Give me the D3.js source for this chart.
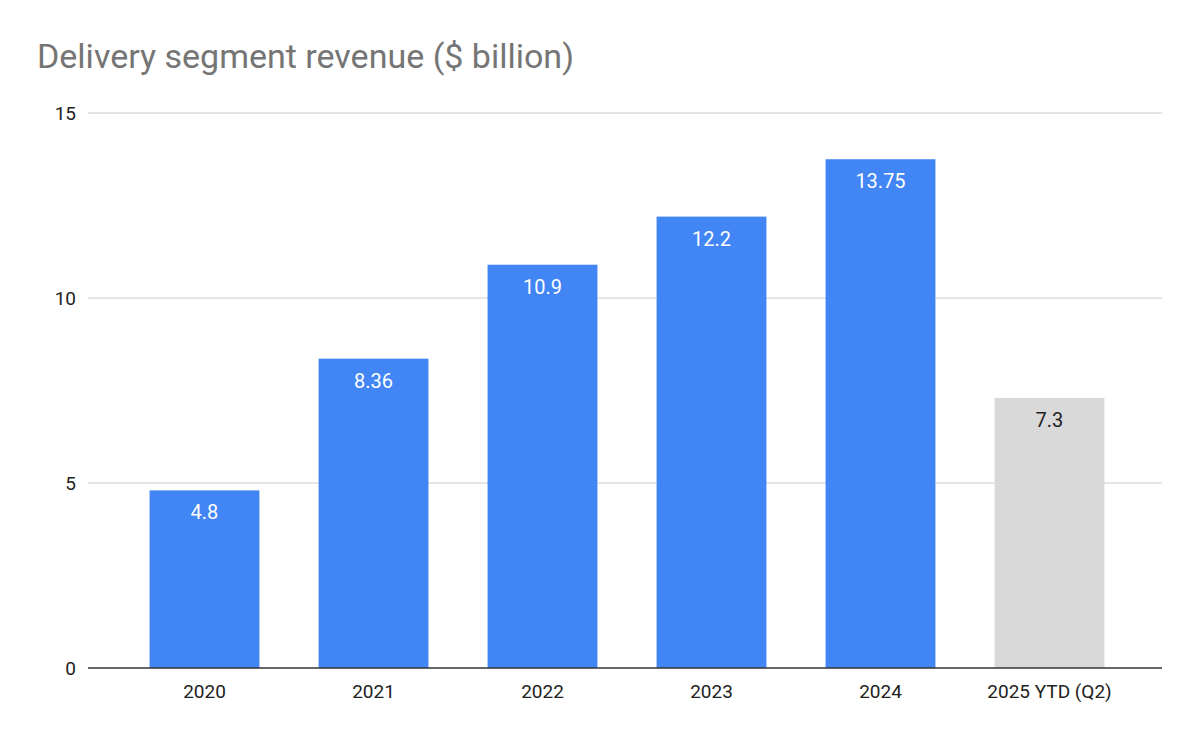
<!DOCTYPE html>
<html lang="en">
<head>
<meta charset="UTF-8">
<script src="https://d3js.org/d3.v7.min.js"></script>
<style>
  body { margin: 0; background: #fff; font-family: Roboto, Arial, sans-serif; }
</style>
</head>
<body>
<svg id="canvas" width="1200" height="742"></svg>
<script>
    // chart data
    const years = ["2020", "2021", "2022", "2023", "2024", "2025 YTD (Q2)"];
    const revenue = [4.8, 8.36, 10.9, 12.2, 13.75, 7.3];
    const yTicks = [0, 5, 10, 15];

    const svg = d3.select("#canvas");

    svg.append("text")
        .attr("x", 37).attr("y", 68)
        .attr("font-size", 34).attr("fill", "#757575")
        .text("Delivery segment revenue ($ billion)");

    const xScale = d3.scaleBand().domain(years).range([120, 1134]).paddingInner(0.35).paddingOuter(0.175);
    const yScale = d3.scaleLinear().domain([0, 15]).range([668, 113]);

    // grid
    svg.append("g").selectAll("line")
        .data(yTicks.slice(1))
        .join("line")
        .attr("x1", 88).attr("x2", 1162)
        .attr("y1", d => yScale(d)).attr("y2", d => yScale(d))
        .attr("stroke", "#cccccc");

    svg.append("g").selectAll("text")
        .data(yTicks)
        .join("text")
        .attr("x", 76).attr("y", d => yScale(d) + 7)
        .attr("text-anchor", "end").attr("font-size", 19).attr("fill", "#222")
        .text(d => d);

    const data = years.map((y, i) => ({ year: y, value: revenue[i], ytd: i === years.length - 1 }));

    svg.append("g").selectAll("rect")
        .data(data)
        .join("rect")
        .attr("x", d => xScale(d.year))
        .attr("width", xScale.bandwidth())
        .attr("y", d => yScale(d.value))
        .attr("height", d => yScale(0) - yScale(d.value))
        .attr("fill", d => d.ytd ? "#d9d9d9" : "#4285f4");

    svg.append("g").selectAll("text")
        .data(data)
        .join("text")
        .attr("x", d => xScale(d.year) + xScale.bandwidth() / 2)
        .attr("y", d => yScale(d.value) + 29)
        .attr("text-anchor", "middle").attr("font-size", 20)
        .attr("fill", d => d.ytd ? "#222" : "#fff")
        .text(d => d.value);

    // baseline
    svg.append("line")
        .attr("x1", 88).attr("x2", 1162)
        .attr("y1", yScale(0)).attr("y2", yScale(0))
        .attr("stroke", "#333").attr("stroke-width", 1.5);

    svg.append("g").selectAll("text")
        .data(years)
        .join("text")
        .attr("x", d => xScale(d) + xScale.bandwidth() / 2)
        .attr("y", 698)
        .attr("text-anchor", "middle").attr("font-size", 19).attr("fill", "#222")
        .text(d => d);
</script>
</body>
</html>
